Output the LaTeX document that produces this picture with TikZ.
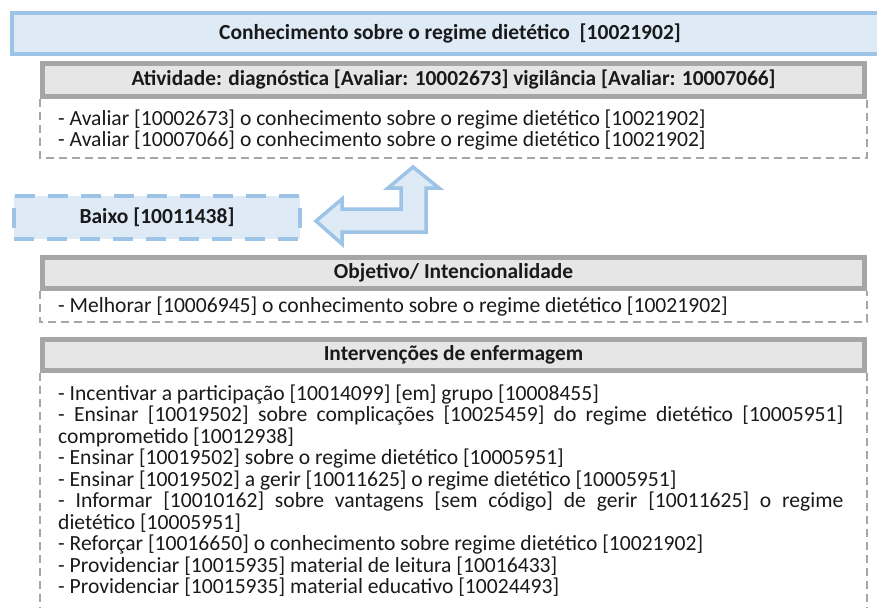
\documentclass[tikz,border=0pt]{standalone}
\usepackage{fontspec}
\setmainfont{Carlito}
\definecolor{bluebd}{HTML}{9DC3E6}
\definecolor{bluefill}{HTML}{DEEBF7}
\definecolor{graybd}{HTML}{A6A6A6}
\definecolor{grayfill}{HTML}{E7E6E6}
\definecolor{txt}{HTML}{1A1A1A}
\begin{document}
\begin{tikzpicture}[x=1pt,y=-1pt,
  every node/.style={text=txt,font=\fontsize{21.6}{21.5}\selectfont},
  hdr/.style={draw=graybd,fill=grayfill,line width=5pt,minimum width=822pt,inner sep=0pt,font=\fontsize{21.4}{21.5}\selectfont\bfseries},
  dashbox/.style={draw=graybd,line width=1.8pt,dash pattern=on 8pt off 5pt},
  line/.style={anchor=base west,inner sep=0pt},
  bluearrow/.style={draw=bluebd,fill=bluefill,line width=3.5pt,line join=miter}
]
\useasboundingbox (0,0) rectangle (877,607);
\clip (0,0) rectangle (877,607);
\fill[white] (0,0) rectangle (877,607);

% title bar
\node[draw=bluebd,fill=bluefill,line width=4pt,minimum width=873pt,minimum height=41pt,inner sep=0pt,font=\fontsize{21.5}{21.5}\selectfont\bfseries] (title) at (448.5,33.5) {\hspace*{3pt}Conhecimento sobre o regime dietético \ [10021902]};

% Atividade
\node[hdr,minimum height=33pt] (h1) at (453.5,80) {Atividade: diagnóstica [Avaliar: 10002673] vigilância [Avaliar: 10007066]};
\draw[dashbox] (h1.south west) -- (h1.south west |- 0,158) -- (h1.south east |- 0,158) -- (h1.south east);
\node[hdr,minimum height=33pt] at (453.5,80) {Atividade: diagnóstica [Avaliar: 10002673] vigilância [Avaliar: 10007066]};
\node[line] (a1) at (58,125) {- Avaliar [10002673] o conhecimento sobre o regime dietético [10021902]};
\node[line] (a2) at (58,146) {- Avaliar [10007066] o conhecimento sobre o regime dietético [10021902]};

% Baixo and arrow
\node[draw=bluebd,fill=bluefill,line width=4pt,dash pattern=on 20pt off 13pt,minimum width=286pt,minimum height=43pt,inner sep=0pt,font=\fontsize{21.5}{21.5}\selectfont\bfseries] (baixo) at (157,217) {Baixo [10011438]};
\draw[bluearrow] (316,221) -- (342,199) -- (342,209) -- (401,209) -- (401,188) -- (388,188) -- (413,167) -- (439,188) -- (426,188) -- (426,232) -- (342,232) -- (342,244) -- cycle;

% Objetivo
\node[hdr,minimum height=31pt] (h2) at (453.5,273) {Objetivo/ Intencionalidade};
\draw[dashbox] (h2.south west) -- (h2.south west |- 0,322) -- (h2.south east |- 0,322) -- (h2.south east);
\node[hdr,minimum height=31pt] at (453.5,273) {Objetivo/ Intencionalidade};
\node[line] (m1) at (58,312) {- Melhorar [10006945] o conhecimento sobre o regime dietético [10021902]};

% Intervencoes
\node[hdr,minimum height=31pt] (h3) at (453.5,355) {Intervenções de enfermagem};
\draw[dashbox] (h3.south west) -- (h3.south west |- 0,620) -- (h3.south east |- 0,620) -- (h3.south east);
\node[hdr,minimum height=31pt] at (453.5,355) {Intervenções de enfermagem};
\node[line] (i1) at (58,400) {- Incentivar a participação [10014099] [em] grupo [10008455]};
\node[line] (i2) at (58,421.5) {\makebox[785pt][s]{- Ensinar [10019502] sobre complicações [10025459] do regime dietético [10005951]}};
\node[line] (i3) at (58,443) {comprometido [10012938]};
\node[line] (i4) at (58,464.5) {- Ensinar [10019502] sobre o regime dietético [10005951]};
\node[line] (i5) at (58,486) {- Ensinar [10019502] a gerir [10011625] o regime dietético [10005951]};
\node[line] (i6) at (58,507.5) {\makebox[785pt][s]{- Informar [10010162] sobre vantagens [sem código] de gerir [10011625] o regime}};
\node[line] (i7) at (58,529) {dietético [10005951]};
\node[line] (i8) at (58,550.5) {- Reforçar [10016650] o conhecimento sobre regime dietético [10021902]};
\node[line] (i9) at (58,572) {- Providenciar [10015935] material de leitura [10016433]};
\node[line] (i10) at (58,593.5) {- Providenciar [10015935] material educativo [10024493]};
\end{tikzpicture}
\end{document}
